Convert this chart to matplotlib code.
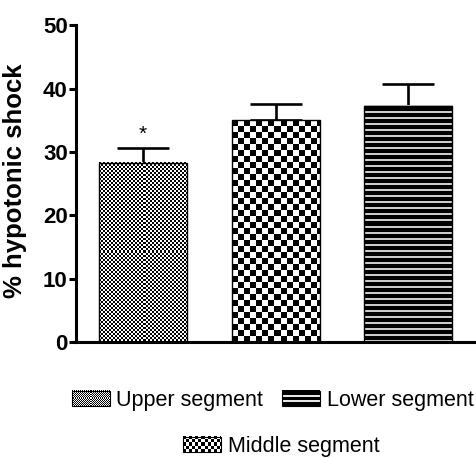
"""
Hypotonic shock per segment, bar chart with patterned fills
"""
import numpy as np
import matplotlib
matplotlib.use('Agg')
import matplotlib.pyplot as plt
from matplotlib.colors import Normalize
from matplotlib.image import BboxImage
from matplotlib.legend_handler import HandlerBase
from matplotlib.patches import Rectangle
from matplotlib.transforms import Bbox, TransformedBbox

plt.rcParams['font.family'] = ['Liberation Sans', 'DejaVu Sans']

# Datos
segments = ['Upper segment', 'Middle segment', 'Lower segment']
means = [28.3, 35.0, 37.3]
sems = [2.3, 2.6, 3.4]
marks = ['*', '', '']
yticks = [0, 10, 20, 30, 40, 50]


def checker(ny, nx, cell):
    i = np.arange(ny)[:, None] // cell
    j = np.arange(nx)[None, :] // cell
    return ((i + j) % 2).astype(float)


def stripes(ny, nx, period, thick):
    rows = (np.arange(ny) % period) < thick
    arr = np.where(rows, 0.8, 0.0)[:, None]
    return np.repeat(arr, nx, axis=1)


def pattern(kind, ny, nx, scale=1.0):
    if kind == 0:
        return checker(ny, nx, max(1, int(round(2 * scale))))
    if kind == 1:
        return checker(ny, nx, max(1, int(round(5.5 * scale))))
    return stripes(ny, nx, 6, 2)


class TextureHandler(HandlerBase):
    def __init__(self, kind):
        super().__init__()
        self.kind = kind

    def create_artists(self, legend, orig_handle, xdescent, ydescent,
                       width, height, fontsize, trans):
        bb = TransformedBbox(Bbox.from_bounds(-xdescent, -ydescent, width, height), trans)
        if self.kind == 2:
            arr = np.zeros((15, 37))
            arr[5:7, :] = 0.9
            arr[9:11, :] = 0.9
        else:
            arr = pattern(self.kind, 15, 37, 0.55)
        im = BboxImage(bb, cmap='gray', norm=Normalize(0, 1), interpolation='nearest')
        im.set_data(arr)
        frame = Rectangle((-xdescent, -ydescent), width, height, fill=False,
                          ec='black', lw=0.8, transform=trans)
        return [im, frame]


fig = plt.figure(figsize=(4.76, 4.58), dpi=100)
ax = fig.add_axes([0.160, 0.253, 0.838, 0.692])

x = np.arange(len(segments))
bars = ax.bar(x, means, width=0.665, facecolor='none', edgecolor='black',
              linewidth=1.0, zorder=3)
ax.errorbar(x, means, yerr=[np.zeros(len(sems)), sems], fmt='none',
            ecolor='black', elinewidth=1.9, capsize=19, capthick=1.9, zorder=2)

ax.set_xlim(-0.505, 2.505)
ax.set_ylim(0, 50)

# Relleno con texturas recortadas a cada barra
for k, bar in enumerate(bars):
    x0, y0 = bar.get_x(), bar.get_y()
    w, h = bar.get_width(), bar.get_height()
    (px0, py0), (px1, py1) = ax.transData.transform([(x0, y0), (x0 + w, y0 + h)])
    nx, ny = int(round(px1 - px0)), int(round(py1 - py0))
    ax.imshow(pattern(k, ny, nx), cmap='gray', vmin=0, vmax=1, aspect='auto',
              interpolation='nearest', extent=(x0, x0 + w, y0, y0 + h), zorder=2.5)

ax.set_xlim(-0.505, 2.505)
ax.set_ylim(0, 50)

for xi, m, s, txt in zip(x, means, sems, marks):
    if txt:
        ax.annotate(txt, (xi, m + s), xytext=(0, 3), textcoords='offset points',
                    ha='center', va='bottom', fontsize=15)

ax.set_yticks(yticks)
ax.set_yticklabels([str(t) for t in yticks], fontweight='bold', fontsize=16)
ax.set_xticks([])
for side in ['top', 'right']:
    ax.spines[side].set_visible(False)
ax.spines['left'].set_linewidth(2.2)
ax.spines['bottom'].set_linewidth(2.2)
ax.tick_params(axis='y', length=5, width=2.2, pad=1)

fig.text(15 / 476, 1 - 181 / 458, '% hypotonic shock', rotation=90,
         ha='center', va='center', fontweight='bold', fontsize=18.5)

# Leyenda en dos filas (la segunda centrada)
h = [Rectangle((0, 0), 1, 1) for _ in segments]
common = dict(frameon=False, fontsize=15.5, handlelength=1.75, handleheight=0.7,
              handletextpad=0.3, columnspacing=0.9, borderpad=0, borderaxespad=0)
fig.legend([h[0], h[2]], [segments[0], segments[2]], ncol=2, loc='center',
           bbox_to_anchor=(0.573, 0.1245),
           handler_map={h[0]: TextureHandler(0), h[2]: TextureHandler(2)}, **common)
fig.legend([h[1]], [segments[1]], loc='center', bbox_to_anchor=(0.591, 0.026),
           handler_map={h[1]: TextureHandler(1)}, **common)

plt.savefig('out.png', dpi=100)
print("Gráfico guardado: out.png")
